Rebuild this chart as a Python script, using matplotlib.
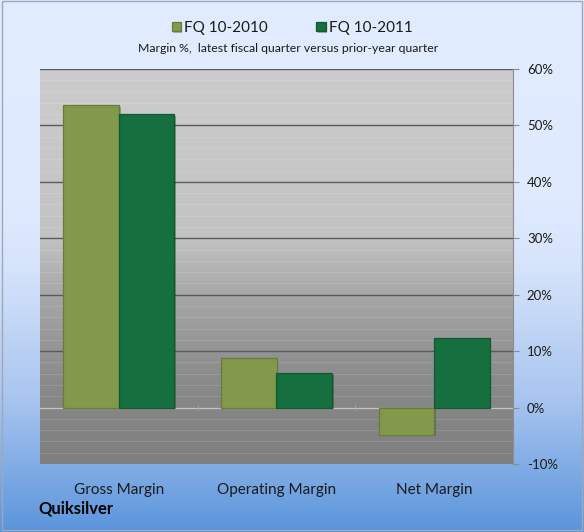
import numpy as np
import matplotlib
matplotlib.use("Agg")
import matplotlib.pyplot as plt
from matplotlib.colors import LinearSegmentedColormap
from matplotlib.patches import Rectangle
import matplotlib.patheffects as pe

plt.rcParams['font.family'] = ['Lato', 'DejaVu Sans']

# Data
categories = ["Gross Margin", "Operating Margin", "Net Margin"]
series_names = ["FQ 10-2010", "FQ 10-2011"]
fq_2010 = [53.6, 8.8, -4.8]
fq_2011 = [52.0, 6.1, 12.3]
y_ticks = [-10, 0, 10, 20, 30, 40, 50, 60]
y_tick_labels = ["-10%", "0%", "10%", "20%", "30%", "40%", "50%", "60%"]
company = "Quiksilver"
subtitle = "Margin %,  latest fiscal quarter versus prior-year quarter"

colors = ["#82984a", "#156f3e"]
edge_colors = ["#6a7c3c", "#10592f"]

fig = plt.figure(figsize=(5.84, 5.32), dpi=100)

# Figure background: pale blue fading to a deeper blue at the bottom
bg_ax = fig.add_axes([0, 0, 1, 1], zorder=-10)
bg_cmap = LinearSegmentedColormap.from_list(
    "bg", [(0.0, "#5b95dc"), (0.25, "#a9c5ef"), (0.5, "#d6e4fb"),
           (0.62, "#dfeaff"), (1.0, "#e1ecff")])
grad = np.linspace(0, 1, 256).reshape(-1, 1)
bg_ax.imshow(grad, cmap=bg_cmap, aspect="auto", extent=[0, 1, 0, 1],
             origin="lower")
bg_ax.add_patch(Rectangle((0.004, 0.004), 0.992, 0.994, fill=False,
                          edgecolor="#a0a8b8", linewidth=1.0,
                          transform=bg_ax.transAxes))
bg_ax.set_xlim(0, 1)
bg_ax.set_ylim(0, 1)
bg_ax.axis("off")

ax = fig.add_axes([40 / 584, 1 - 464 / 532, 473 / 584, 395 / 532])

# Plot area: light grey at top to darker grey at bottom
pa_cmap = LinearSegmentedColormap.from_list(
    "pa", [(0.0, "#7f7f7f"), (0.2, "#898989"), (0.4, "#a3a3a3"),
           (0.58, "#c3c3c3"), (1.0, "#cccccc")])
ax.imshow(grad, cmap=pa_cmap, aspect="auto", extent=[0, 1, 0, 1],
          origin="lower", transform=ax.transAxes, zorder=0)

n = len(categories)
x = np.arange(n)
width = 0.352

ax.set_xlim(-0.5, n - 0.5)
ax.set_ylim(-10, 60)

# Minor and major gridlines
for v in np.arange(-10, 61, 2):
    if v % 10 != 0:
        ax.axhline(v, color="white", alpha=0.12, linewidth=0.8, zorder=1)
for v in y_ticks[2:]:
    ax.axhline(v, color="#5a5a5a", linewidth=1.0, zorder=1)
ax.axhline(0, color="#c4c4c4", linewidth=0.9, zorder=1)
for b in [0.5, 1.5]:
    ax.plot([b, b], [-0.5, 0.5], color="#a8a8a8", linewidth=0.6, zorder=1)

shadow = [pe.SimplePatchShadow(offset=(1.2, -1.2), alpha=0.3), pe.Normal()]
for i, (vals, name) in enumerate(zip([fq_2010, fq_2011], series_names)):
    offs = (i - 0.5) * width
    bars = ax.bar(x + offs, vals, width, color=colors[i],
                  edgecolor=edge_colors[i], linewidth=0.9, label=name,
                  zorder=3)
    for b in bars:
        b.set_path_effects(shadow)

# Axes styling
for s in ["top", "left", "bottom"]:
    ax.spines[s].set_visible(False)
ax.spines["right"].set_color("#8c8c8c")
ax.yaxis.tick_right()
ax.set_yticks(y_ticks)
ax.set_yticklabels(y_tick_labels, fontsize=9.5, color="#1a1a1a")
ax.tick_params(axis="y", length=4, color="#8c8c8c", pad=6)
ax.set_xticks(x)
ax.set_xticklabels(categories, fontsize=11, color="#1a1a1a")
ax.tick_params(axis="x", length=0, pad=14)

handles, labels = ax.get_legend_handles_labels()
leg = fig.legend(handles, labels, loc="center", ncol=2,
                 bbox_to_anchor=(292 / 584, 1 - 28 / 532), frameon=False,
                 fontsize=11, handlelength=0.6, handleheight=0.6,
                 handletextpad=0.2, columnspacing=3.2)
for t in leg.get_texts():
    t.set_color("#1a1a1a")

fig.text(288 / 584, 1 - 48 / 532, subtitle, ha="center", va="center",
         fontsize=8.8, color="#1a1a1a")
fig.text(38 / 584, 1 - 509 / 532, company, ha="left", va="center",
         fontsize=12, fontweight="bold", color="#000000")

fig.savefig("out.png", dpi=100)
